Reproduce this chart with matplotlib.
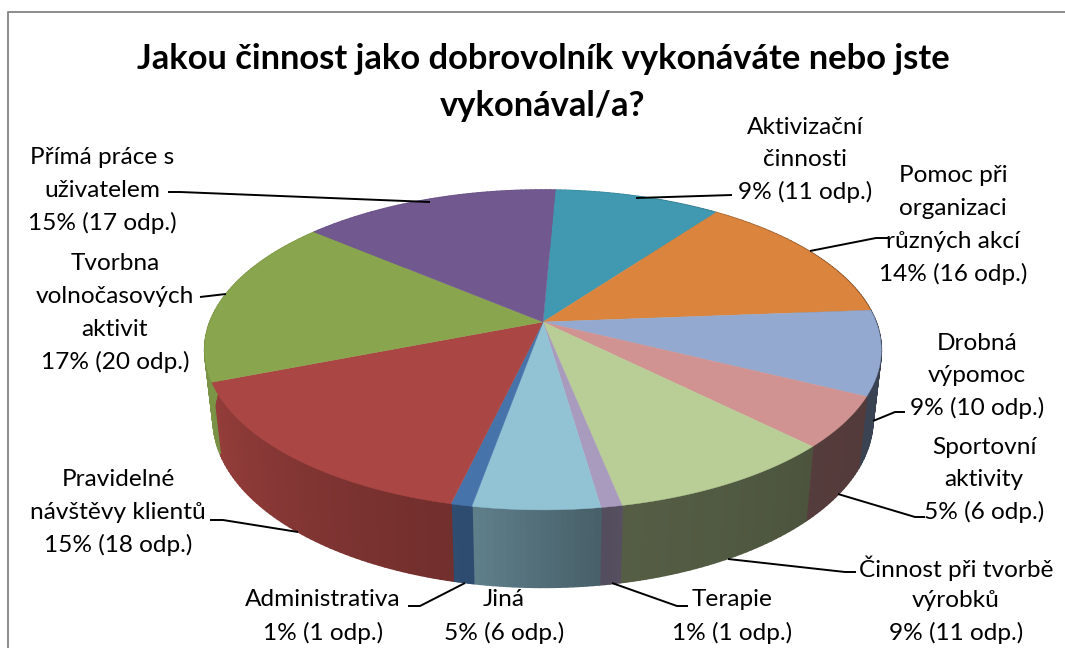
import numpy as np
import matplotlib
matplotlib.use("Agg")
import matplotlib.pyplot as plt

title = "Jakou činnost jako dobrovolník vykonáváte nebo jste\nvykonával/a?"
categories = ["Aktivizační\nčinnosti", "Pomoc při\norganizaci\nrůzných akcí", "Drobná\nvýpomoc",
              "Sportovní\naktivity", "Činnost při tvorbě\nvýrobků", "Terapie", "Jiná",
              "Administrativa", "Pravidelné\nnávštěvy klientů", "Tvorbna\nvolnočasových\naktivit",
              "Přímá práce s\nuživatelem"]
counts = [11, 16, 10, 6, 11, 1, 6, 1, 18, 20, 17]
percents = [9, 14, 9, 5, 9, 1, 5, 1, 15, 17, 15]
colors = ["#4099b0", "#db843d", "#93a9cf", "#d19392", "#b9cd96", "#a99bbd",
          "#91c3d5", "#4674aa", "#aa4643", "#89a54e", "#71588f"]

# label layout, in pixels of the figure
label_x = [805, 953, 977, 984, 956, 732, 504, 323, 118, 115, 102]
label_top = [127, 176, 343, 447, 568, 600, 600, 600, 480, 264, 158]
leaders = [[(636, 198), (732, 195)],
           [(810, 251), (876, 238), (888, 238)],
           [(873, 421), (895, 412), (905, 412)],
           [(838, 494), (915, 517), (925, 517)],
           [(728, 559), (845, 572), (856, 572)],
           [(612, 583), (677, 606), (688, 606)],
           [],
           [(465, 583), (420, 606), (408, 606)],
           [(298, 532), (223, 520), (210, 520)],
           [(200, 297), (226, 294)],
           [(168, 192), (180, 192), (430, 202)]]

plt.rcParams["font.family"] = ["Lato", "DejaVu Sans"]
fig = plt.figure(figsize=(10.65, 6.48), dpi=100)
ax = fig.add_axes([0, 0, 1, 1])
ax.set_xlim(0, 1065)
ax.set_ylim(648, 0)
ax.axis("off")

CX, CY, K, A, B = 543.0, 322.0, 0.175, 155.0, 333.0
START = 2.5
SX, SY, DY = 0.975, 1.05, 68.0


def project(theta, sx=1.0, sy=1.0, dy=0.0, r=1.0):
    t = np.radians(theta)
    u, v = r * np.sin(t), r * np.cos(t)
    w = 1 + K * v
    return CX + sx * B * u / w, CY + dy - sy * A * v / w


def shade(theta):
    a = (theta % 360)
    return np.interp(a, [0, 100, 135, 168.5, 169, 172, 190, 249, 290, 360],
                     [0.95, 0.39, 0.41, 0.46, 0.51, 0.49, 0.65, 0.88, 0.93, 0.95])


edges = START + 360.0 * np.concatenate([[0], np.cumsum(counts)]) / np.sum(counts)

# side wall, painted first so that the top covers its hidden part
for i, c in enumerate(colors):
    rgb = np.array(matplotlib.colors.to_rgb(c))
    a0, a1 = edges[i], edges[i + 1]
    steps = max(2, int((a1 - a0) / 1.0) + 1)
    grid = np.linspace(a0, a1, steps + 1)
    for t0, t1 in zip(grid[:-1], grid[1:]):
        x0, y0 = project(t0)
        x1, y1 = project(t1)
        x2, y2 = project(t1, SX, SY, DY)
        x3, y3 = project(t0, SX, SY, DY)
        col = rgb * shade((t0 + t1) / 2)
        ax.fill([x0, x1, x2, x3], [y0, y1, y2, y3], color=col, lw=1.3, ec=col, zorder=2,
                joinstyle="round")

# top face
for i, c in enumerate(colors):
    grid = np.linspace(edges[i], edges[i + 1], 120)
    xs, ys = project(grid)
    ax.fill(np.r_[CX, xs], np.r_[CY, ys], color=c, lw=0.3, ec=c, zorder=3)

# leader lines
for pts in leaders:
    if pts:
        ax.plot(*zip(*pts), color="black", lw=1.4, zorder=4, solid_capstyle="butt")

# data labels
LINE = 32.6
for name, n, p, x, top in zip(categories, counts, percents, label_x, label_top):
    lines = name.split("\n") + [f"{p}% ({n} odp.)"]
    for j, s in enumerate(lines):
        ax.text(x, top + j * LINE, s, ha="center", va="center", fontsize=17.6,
                color="black", zorder=5)

# title
for j, s in enumerate(title.split("\n")):
    ax.text(543, 59 + j * 47, s, ha="center", va="center", fontsize=24.8,
            fontweight="bold", color="black", zorder=5)

# chart frame
ax.plot([1065, 8, 8], [11.5, 11.5, 648], color="#8c8c8c", lw=1.4, zorder=6, clip_on=False)

fig.savefig("out.png", dpi=100, facecolor="white")
